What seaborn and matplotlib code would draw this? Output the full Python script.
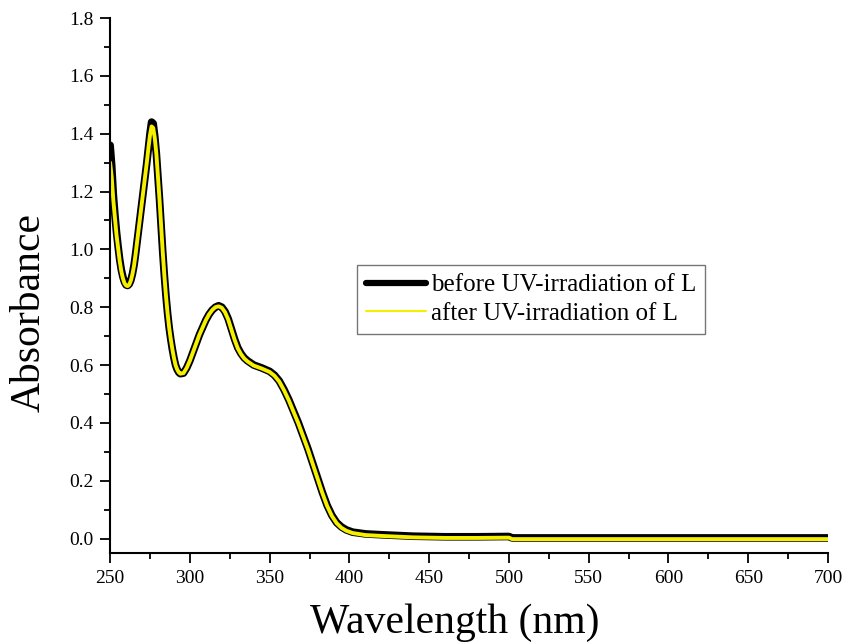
import pandas as pd
import numpy as np
import matplotlib.pyplot as plt
import seaborn as sns

# espectro UV-vis (nm, absorbancia)
wavelength = [250, 251, 252, 253, 254, 255, 256, 257, 258, 259,
              260, 261, 262, 263, 264, 265, 266, 267, 268, 269,
              270, 271, 272, 273, 274, 275, 276, 277, 278, 279,
              280, 281, 282, 283, 284, 285, 286, 287, 288, 289,
              290, 291, 292, 293, 294, 296, 298, 300, 302, 304,
              306, 308, 310, 312, 314, 316, 318, 320, 322, 324,
              326, 328, 330, 332, 334, 336, 340, 345, 350, 353,
              356, 359, 362, 365, 368, 371, 374, 377, 380, 383,
              386, 389, 392, 395, 398, 402, 410, 420, 440, 460,
              480, 500, 502, 550, 600, 650, 700]
before_uv = [1.36, 1.29, 1.19, 1.12, 1.06, 1.01, 0.965, 0.93, 0.905, 0.887,
             0.877, 0.875, 0.88, 0.893, 0.915, 0.945, 0.985, 1.03, 1.075, 1.12,
             1.165, 1.21, 1.255, 1.30, 1.35, 1.40, 1.44, 1.435, 1.39, 1.33,
             1.25, 1.17, 1.08, 0.99, 0.91, 0.84, 0.78, 0.73, 0.69, 0.655,
             0.625, 0.60, 0.585, 0.575, 0.57, 0.572, 0.59, 0.615, 0.645, 0.675,
             0.705, 0.73, 0.755, 0.775, 0.79, 0.80, 0.805, 0.80, 0.785, 0.76,
             0.725, 0.69, 0.66, 0.64, 0.625, 0.615, 0.60, 0.59, 0.578, 0.565,
             0.545, 0.515, 0.48, 0.44, 0.40, 0.355, 0.31, 0.26, 0.21, 0.16,
             0.115, 0.08, 0.055, 0.04, 0.03, 0.022, 0.016, 0.013, 0.008, 0.006,
             0.006, 0.007, 0.002, 0.002, 0.002, 0.002, 0.002]
after_uv = [1.30, 1.25, 1.17, 1.11, 1.05, 1.005, 0.96, 0.925, 0.90, 0.883,
            0.875, 0.873, 0.878, 0.892, 0.914, 0.944, 0.984, 1.03, 1.075, 1.12,
            1.165, 1.21, 1.255, 1.30, 1.35, 1.395, 1.425, 1.42, 1.385, 1.33,
            1.25, 1.17, 1.08, 0.99, 0.91, 0.84, 0.78, 0.73, 0.69, 0.655,
            0.625, 0.60, 0.585, 0.575, 0.57, 0.572, 0.59, 0.615, 0.645, 0.675,
            0.705, 0.73, 0.755, 0.775, 0.79, 0.80, 0.803, 0.798, 0.783, 0.758,
            0.723, 0.688, 0.658, 0.638, 0.623, 0.613, 0.598, 0.588, 0.576, 0.563,
            0.543, 0.513, 0.478, 0.438, 0.398, 0.353, 0.308, 0.258, 0.208, 0.158,
            0.113, 0.078, 0.053, 0.037, 0.027, 0.019, 0.012, 0.009, 0.004, 0.002,
            0.002, 0.003, -0.002, -0.002, -0.002, -0.002, -0.002]

data = pd.DataFrame({"wl": wavelength, "before": before_uv, "after": after_uv})

sns.set_style("ticks")
plt.rcParams["font.family"] = ["Liberation Serif", "DejaVu Serif"]
plt.rcParams["text.color"] = "black"
plt.rcParams["axes.labelcolor"] = "black"

fig = plt.figure(figsize=(8.47, 6.43), dpi=100)
ax = fig.add_axes([0.130, 0.140, 0.8476, 0.832])

sns.lineplot(data=data, x="wl", y="before", ax=ax, color="black", linewidth=5.5,
             label="before UV-irradiation of L", solid_joinstyle="round", solid_capstyle="round")
sns.lineplot(data=data, x="wl", y="after", ax=ax, color="#f5f000", linewidth=2.8,
             label="after UV-irradiation of L", solid_joinstyle="round")

ax.set_xlim(250, 700)
ax.set_ylim(-0.05, 1.8)
ax.set_xticks(np.arange(250, 701, 50))
ax.set_xticks(np.arange(250, 701, 25), minor=True)
ax.set_yticks(np.arange(0, 1.81, 0.2))
ax.set_yticks(np.arange(0, 1.81, 0.1), minor=True)
ax.yaxis.set_major_formatter(plt.FormatStrFormatter("%.1f"))
ax.tick_params(which="major", direction="out", length=7, width=1.3, labelsize=14,
               pad=5, colors="black", labelcolor="black")
ax.tick_params(which="minor", direction="out", length=4, width=1.3, colors="black")
ax.set_xlabel("Wavelength (nm)", fontsize=30, labelpad=12)
ax.xaxis.label.set_x(0.48)
ax.set_ylabel("Absorbance", fontsize=30)
ax.yaxis.set_label_coords(-0.085, 0.45)
sns.despine(ax=ax)
for s in ["left", "bottom"]:
    ax.spines[s].set_linewidth(1.5)
    ax.spines[s].set_color("black")

leg = ax.legend(loc="upper left", bbox_to_anchor=(0.344, 0.538), fontsize=18,
                frameon=True, fancybox=False, handlelength=2.4, handletextpad=0.2,
                borderpad=0.35, labelspacing=0.25, borderaxespad=0)
leg.get_frame().set_edgecolor("#555555")
leg.get_frame().set_linewidth(1.0)
leg.get_lines()[0].set_linewidth(4.5)
leg.get_lines()[1].set_linewidth(1.5)

fig.savefig("out.png", dpi=100)
